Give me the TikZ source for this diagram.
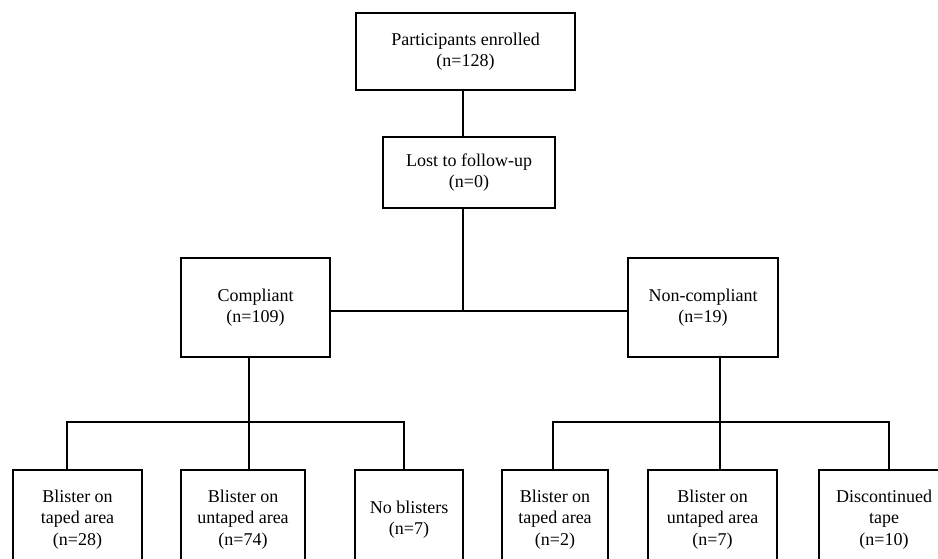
\documentclass[tikz,border=0pt]{standalone}
\usepackage{fontspec}
\setmainfont{Liberation Serif}
\usepackage{tikz}
\tikzset{
    box/.style={draw=black,line width=1.6pt,fill=white,align=center,
        font=\fontsize{18}{21.5}\selectfont,inner sep=2pt},
    link/.style={draw,line width=1.6pt},
    flow/.style={
        every node/.style=box,
        every edge/.style=link,
    }
}
\begin{document}
\begin{tikzpicture}[flow,x=1pt,y=-1pt]
\path[use as bounding box,clip] (0,0) rectangle (938,559);
\node[minimum width=219pt,minimum height=77pt] (enr) at (465.5,51.5) {Participants enrolled\\(n=128)};
\node[minimum width=172pt,minimum height=71pt] (lost) at (469,172.5) {Lost to follow-up\\(n=0)};
\node[minimum width=149pt,minimum height=99pt] (comp) at (255.5,307.5) {Compliant\\(n=109)};
\node[minimum width=150pt,minimum height=99pt] (non) at (703,307.5) {Non-compliant\\(n=19)};
% lower row, cut off by the page edge
\node[minimum width=129pt,minimum height=99pt] (ct) at (77.5,519.5) {Blister on\\taped area\\(n=28)};
\node[minimum width=124pt,minimum height=99pt] (cu) at (243,519.5) {Blister on\\untaped area\\(n=74)};
\node[minimum width=108pt,minimum height=99pt] (cn) at (409,519.5) {No blisters\\(n=7)};
\node[minimum width=106pt,minimum height=99pt] (nt) at (555,519.5) {Blister on\\taped area\\(n=2)};
\node[minimum width=129pt,minimum height=99pt] (nu) at (712.5,519.5) {Blister on\\untaped area\\(n=7)};
\node[minimum width=130pt,minimum height=99pt] (nd) at (884,519.5) {Discontinued\\tape\\(n=10)};
\coordinate (trunk) at (463,311);
\coordinate (cbar) at (249,422);
\coordinate (nbar) at (720,422);
\path
    (enr.south -| trunk) edge (lost.north -| trunk)
    (lost.south -| trunk) edge (trunk)
    (comp.east |- trunk) edge (non.west |- trunk)
;
\draw[link] (comp.south -| cbar) -- (cbar);
\draw[link] (ct.north -| 67,0) |- (cbar) -| (cn.north -| 404,0);
\draw[link] (cbar) -- (cu.north -| cbar);
\draw[link] (non.south -| nbar) -- (nbar);
\draw[link] (nt.north -| 553,0) |- (nbar) -| (nd.north -| 889,0);
\draw[link] (nbar) -- (nu.north -| nbar);
\end{tikzpicture}
\end{document}
